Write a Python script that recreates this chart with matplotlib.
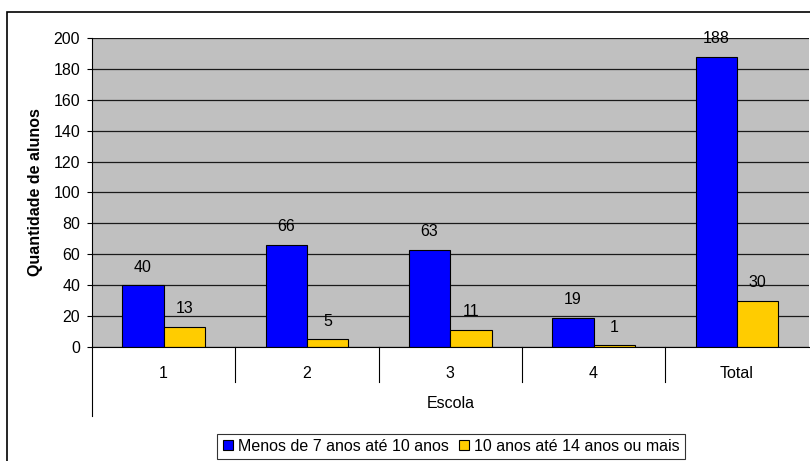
# Gráfico de barras: quantidade de alunos por escola e faixa etária
import numpy as np
import matplotlib.pyplot as plt
from matplotlib.lines import Line2D
from matplotlib.patches import Rectangle

plt.rcParams['font.family'] = ['Liberation Sans', 'DejaVu Sans']
plt.rcParams['font.size'] = 11.5

escolas = ['1', '2', '3', '4', 'Total']
menos_7_10 = [40, 66, 63, 19, 188]
dez_14_mais = [13, 5, 11, 1, 30]
series = ['Menos de 7 anos até 10 anos', '10 anos até 14 anos ou mais']
cores = ['#0000FF', '#FFCC00']

fig = plt.figure(figsize=(8.1, 4.61), dpi=100)
fig.patches.append(Rectangle((7 / 810, -0.05), 1.1, 1 - 12 / 461 + 0.05,
                             transform=fig.transFigure, fill=False,
                             edgecolor='black', linewidth=1.2))

ax = fig.add_axes([92 / 810, 1 - 347 / 461, 716.5 / 810, 309 / 461])
ax.set_facecolor('#C0C0C0')

x = np.arange(len(escolas))
w = 0.288
b1 = ax.bar(x - w / 2, menos_7_10, w, color=cores[0], edgecolor='black', linewidth=0.8)
b2 = ax.bar(x + w / 2, dez_14_mais, w, color=cores[1], edgecolor='black', linewidth=0.8)

for barras, vals in [(b1, menos_7_10), (b2, dez_14_mais)]:
    for barra, v in zip(barras, vals):
        ax.annotate(str(v), (barra.get_x() + barra.get_width() / 2, v),
                    xytext=(0, 13), textcoords='offset points',
                    ha='center', va='center')

ax.set_xlim(-0.5, len(escolas) - 0.5)
ax.set_ylim(0, 200)
ax.set_yticks(np.arange(0, 201, 20))
ax.yaxis.grid(True, color='#1a1a1a', linewidth=0.9)
ax.set_axisbelow(True)
ax.tick_params(axis='y', length=3.6, pad=5, width=0.8)
ax.set_xticks(x)
ax.set_xticklabels(escolas)
ax.tick_params(axis='x', length=0, pad=14)

for lado in ['top', 'right']:
    ax.spines[lado].set_visible(False)
ax.spines['left'].set_linewidth(0.8)
ax.spines['bottom'].set_linewidth(0.8)

# separadores das categorias e linha esquerda estendida
trans = ax.get_xaxis_transform()
for k in range(1, len(escolas)):
    ax.plot([k - 0.5, k - 0.5], [0, -35 / 309], color='black', linewidth=0.8,
            transform=trans, clip_on=False)
ax.plot([-0.5, -0.5], [0, -69 / 309], color='black', linewidth=0.8,
        transform=trans, clip_on=False)

ax.set_xlabel('Escola')
ax.xaxis.set_label_coords(0.5, -57 / 309)
ax.xaxis.label.set_va('center')
fig.text(36 / 810, 1 - 192.5 / 461, 'Quantidade de alunos', rotation=90,
         ha='center', va='center', fontweight='bold')

handles = [Line2D([], [], marker='s', linestyle='none', markersize=7,
                  markerfacecolor=c, markeredgecolor='black', markeredgewidth=0.8)
           for c in cores]
leg = fig.legend(handles, series, loc='upper center', bbox_to_anchor=(451 / 810, 1 - 434 / 461),
                 ncol=2, frameon=True, fancybox=False, handlelength=0.7,
                 handletextpad=0.3, columnspacing=0.6, borderpad=0.3,
                 borderaxespad=0)
leg.get_frame().set_edgecolor('black')
leg.get_frame().set_linewidth(0.8)

fig.savefig('out.png', dpi=100)
